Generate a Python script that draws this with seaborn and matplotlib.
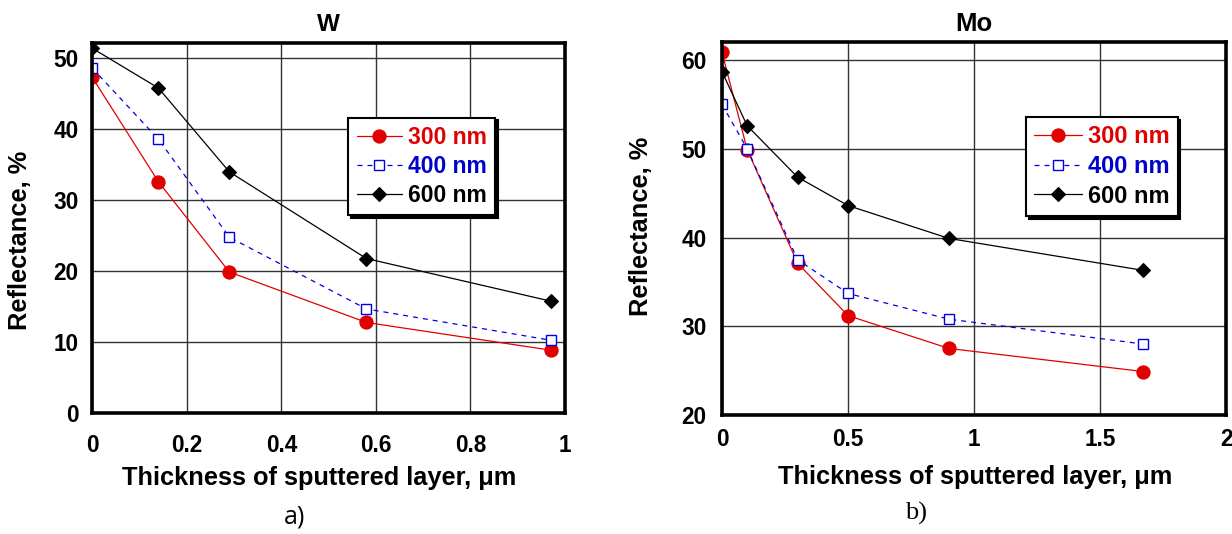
import matplotlib
matplotlib.use("Agg")
import matplotlib.pyplot as plt
import pandas as pd
import seaborn as sns

# Sputtered-layer reflectance data
wavelengths = ["300 nm", "400 nm", "600 nm"]

w_thickness = [0.0, 0.14, 0.29, 0.58, 0.97]
w_300 = [47.2, 32.5, 19.8, 12.7, 8.8]
w_400 = [48.5, 38.5, 24.7, 14.6, 10.2]
w_600 = [51.3, 45.7, 33.9, 21.7, 15.7]

mo_thickness = [0.0, 0.1, 0.3, 0.5, 0.9, 1.67]
mo_300 = [60.9, 49.9, 37.1, 31.2, 27.5, 24.9]
mo_400 = [55.0, 50.0, 37.5, 33.7, 30.8, 28.0]
mo_600 = [58.7, 52.6, 46.8, 43.6, 39.9, 36.3]

w_xticks = [0, 0.2, 0.4, 0.6, 0.8, 1]
w_xticklabels = ["0", "0.2", "0.4", "0.6", "0.8", "1"]
w_yticks = [0, 10, 20, 30, 40, 50]
mo_xticks = [0, 0.5, 1, 1.5, 2]
mo_xticklabels = ["0", "0.5", "1", "1.5", "2"]
mo_yticks = [20, 30, 40, 50, 60]

sns.set_theme(style="white")
plt.rcParams["font.family"] = ["Liberation Sans", "DejaVu Sans"]
plt.rcParams["font.weight"] = "bold"
plt.rcParams["text.color"] = "black"
plt.rcParams["axes.labelcolor"] = "black"
plt.rcParams["xtick.color"] = "black"
plt.rcParams["ytick.color"] = "black"

RED = "#e00000"
BLUE = "#0000e0"
BLACK = "#000000"

styles = {
    "300 nm": dict(color=RED, marker="o", linestyle="-", markersize=9.5,
                   markerfacecolor=RED, markeredgecolor=RED, markeredgewidth=0.8),
    "400 nm": dict(color=BLUE, marker="s", linestyle=(0, (4, 4)), markersize=7.5,
                   markerfacecolor="white", markeredgecolor=BLUE, markeredgewidth=1.0),
    "600 nm": dict(color=BLACK, marker="D", linestyle="-", markersize=7.5,
                   markerfacecolor=BLACK, markeredgecolor=BLACK, markeredgewidth=0.8),
}
text_colors = {"300 nm": RED, "400 nm": "#0000cc", "600 nm": BLACK}


def long_table(thickness, series):
    rows = []
    for name, values in zip(wavelengths, series):
        for t, v in zip(thickness, values):
            rows.append({"thickness": t, "reflectance": v, "wavelength": name})
    return pd.DataFrame(rows)


def draw_panel(ax, df, title, xlim, ylim, xticks, xlabels, yticks,
               tick_size, xpad, ypad, title_pad, title_size, legend_anchor,
               legend_size, xlabel_xy, ylabel_xy):
    for name in wavelengths:
        sub = df[df["wavelength"] == name]
        sns.lineplot(data=sub, x="thickness", y="reflectance", ax=ax,
                     linewidth=0.9, label=name, legend=False, **styles[name])

    ax.set_xlim(*xlim)
    ax.set_ylim(*ylim)
    ax.set_xticks(xticks)
    ax.set_xticklabels(xlabels)
    ax.set_yticks(yticks)
    ax.grid(True, color="#333333", linewidth=1.0)
    ax.set_axisbelow(True)
    for sp in ax.spines.values():
        sp.set_visible(True)
        sp.set_color("black")
        sp.set_linewidth(2.6)
    ax.tick_params(axis="x", direction="out", length=3, width=1, pad=xpad,
                   labelsize=tick_size, colors="black")
    ax.tick_params(axis="y", direction="out", length=3, width=1, pad=ypad,
                   labelsize=tick_size, colors="black")
    for lab in ax.get_xticklabels() + ax.get_yticklabels():
        lab.set_fontweight("bold")

    ax.set_title(title, fontsize=title_size, fontweight="bold", pad=title_pad,
                 color="black")
    ax.set_xlabel("Thickness of sputtered layer, μm", fontsize=18.3,
                  fontweight="bold", va="center", color="black")
    ax.set_ylabel("Reflectance, %", fontsize=18.3, fontweight="bold",
                  va="center", color="black")
    ax.xaxis.set_label_coords(*xlabel_xy)
    ax.yaxis.set_label_coords(*ylabel_xy)

    handles = ax.get_lines()[:3]
    leg = ax.legend(handles=handles, labels=wavelengths, loc="upper left",
                    bbox_to_anchor=legend_anchor, borderaxespad=0,
                    prop={"size": legend_size, "weight": "bold"},
                    frameon=True, fancybox=False,
                    shadow={"color": "black", "alpha": 1.0},
                    handlelength=2.0, handletextpad=0.25, labelspacing=0.28,
                    borderpad=0.35)
    leg.get_frame().set_edgecolor("black")
    leg.get_frame().set_linewidth(1.5)
    leg.get_frame().set_facecolor("white")
    for txt, name in zip(leg.get_texts(), wavelengths):
        txt.set_color(text_colors[name])


fig = plt.figure(figsize=(12.32, 5.34), dpi=100)
ax_w = fig.add_axes([0.0749, 0.2272, 0.3837, 0.6917])
ax_mo = fig.add_axes([0.5860, 0.2228, 0.4095, 0.6980])

draw_panel(ax_w, long_table(w_thickness, [w_300, w_400, w_600]), "W",
           (0, 1), (0, 52), w_xticks, w_xticklabels, w_yticks,
           tick_size=16.3, xpad=12, ypad=7, title_pad=9, title_size=17.5,
           legend_anchor=(0.542, 0.799), legend_size=16.5,
           xlabel_xy=(0.481, -0.177), ylabel_xy=(-0.153, 0.4675))

draw_panel(ax_mo, long_table(mo_thickness, [mo_300, mo_400, mo_600]), "Mo",
           (0, 2), (20, 62), mo_xticks, mo_xticklabels, mo_yticks,
           tick_size=16.3, xpad=6, ypad=8, title_pad=8, title_size=18.5,
           legend_anchor=(0.603, 0.799), legend_size=17,
           xlabel_xy=(0.501, -0.166), ylabel_xy=(-0.1606, 0.506))

fig.text(295 / 1232, 1 - 517 / 534, "a)", fontsize=18, fontweight="normal",
         family=["Open Sans", "DejaVu Sans"], ha="center", va="center")
fig.text(916 / 1232, 1 - 513 / 534, "b)", fontsize=19, fontweight="normal",
         family=["Liberation Serif", "DejaVu Serif"], ha="center", va="center")

fig.savefig("out.png", dpi=100, facecolor="white")
